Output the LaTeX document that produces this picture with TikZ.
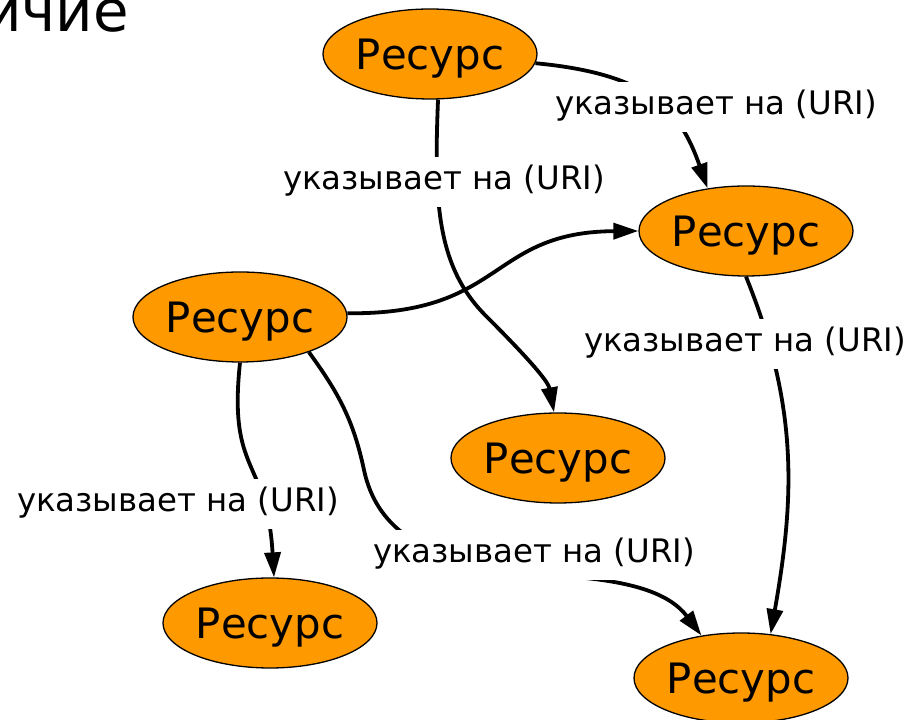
\documentclass[tikz,border=0pt]{standalone}
\usepackage{fontspec}
\setmainfont{DejaVu Sans}
\usetikzlibrary{shapes.geometric,arrows.meta}
\definecolor{resfill}{HTML}{FF9900}
\tikzset{
  resource/.style={ellipse, draw=black, line width=1.3bp, fill=resfill,
    minimum width=214bp, minimum height=90bp, inner sep=0pt,
    font=\fontsize{42}{48}\selectfont, text depth=0pt},
  link/.style={line width=3.8bp, -{Triangle[length=25bp,width=16bp]}},
  linklabel/.style={fill=white, inner xsep=6bp, inner ysep=9bp,
    font=\fontsize{32.5}{38}\selectfont, text height=24bp, text depth=8bp},
}
\begin{document}
\begin{tikzpicture}[x=1bp,y=1bp]
\useasboundingbox (0,0) rectangle (918,720);

% title fragment at the top left
\node[anchor=base east, inner sep=0pt, font=\fontsize{58}{64}\selectfont] (title) at (129,688) {ичие};

% resources
\node[resource] (r1) at (430,666) {Ресурс};
\node[resource] (r2) at (746,489) {Ресурс};
\node[resource] (r3) at (240,403) {Ресурс};
\node[resource] (r4) at (558,262) {Ресурс};
\node[resource] (r5) at (270,97)  {Ресурс};
\node[resource] (r6) at (741,42)  {Ресурс};

% links
\draw[link] (r1.-5) .. controls (650,646) and (680,610) .. (r2.132);
\draw[link] (r1.-80) .. controls (434,520) and (436,454) .. (486,404)
            .. controls (521,369) and (548,340) .. (r4.95);
\draw[link] (r3.2) .. controls (505,405) and (488,488) .. (r2.west);
\draw[link] (r3.-90) .. controls (228,245) and (267,263) .. (r5.85);
\draw[link] (r3.-27) to[out=-54,in=102] (364,250) to[out=-78,in=175] (575,143)
            to[out=-5,in=127] (r6.133);
\draw[link] (r2.south) to[out=-68,in=80] (r6.56);

% link labels
\node[linklabel] (l1) at (716,613) {указывает на (URI)};
\node[linklabel] (l2) at (444,538) {указывает на (URI)};
\node[linklabel] (l3) at (745,376) {указывает на (URI)};
\node[linklabel] (l4) at (178,216) {указывает на (URI)};
\node[linklabel] (l5) at (534,165) {указывает на (URI)};
\end{tikzpicture}
\end{document}
